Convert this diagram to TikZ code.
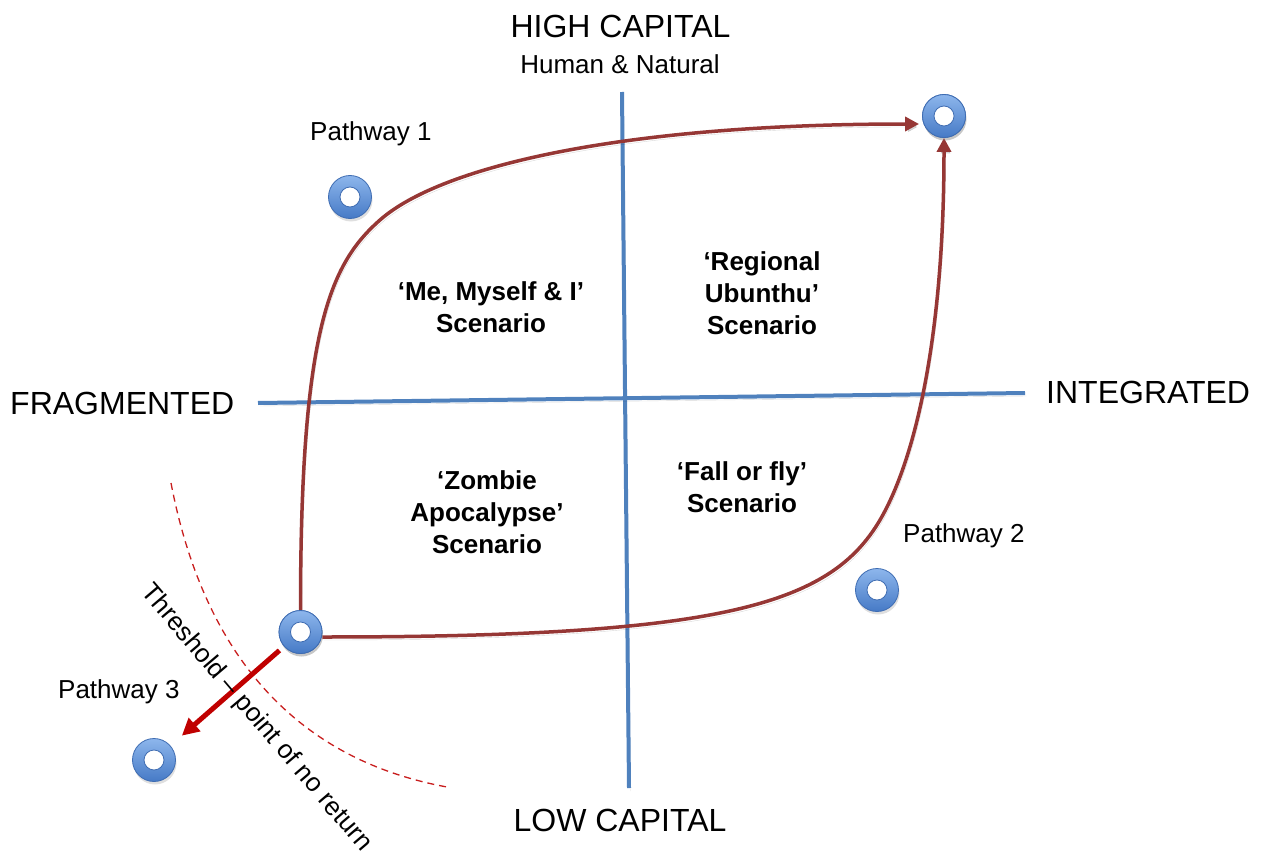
\documentclass[tikz,border=0pt]{standalone}
\usepackage{fontspec}
\setmainfont{Liberation Sans}
\usetikzlibrary{arrows.meta,calc,shadows}

\definecolor{axisblue}{RGB}{79,129,189}
\definecolor{pathred}{RGB}{150,55,53}
\definecolor{jumpred}{RGB}{192,0,0}
\definecolor{dashred}{RGB}{200,30,30}
\definecolor{donuttop}{RGB}{141,182,236}
\definecolor{donutbot}{RGB}{70,122,198}
\definecolor{donutedge}{RGB}{62,108,178}

\begin{document}
\begin{tikzpicture}[x=1pt,y=-1pt,
  softshadow/.style={preaction={draw=black, opacity=0.15,
      transform canvas={xshift=1.5pt,yshift=-3pt}}},
  axis/.style={axisblue, line width=4pt, softshadow},
  pathway/.style={pathred, line width=3.5pt, softshadow,
      -{Triangle[length=14pt,width=14pt]}},
  jump/.style={jumpred, line width=5pt, -{Triangle[length=17pt,width=17pt]}},
  threshold/.style={dashred, line width=1.3pt, dash pattern=on 7pt off 5pt},
  donut/.style={circle, minimum size=43pt, inner sep=0pt,
      draw=donutedge, line width=0.8pt, top color=donuttop, bottom color=donutbot,
      drop shadow={opacity=0.25, shadow xshift=1pt, shadow yshift=-3pt},
      path picture={\fill[white, draw=donutedge, line width=0.8pt]
        (path picture bounding box.center) circle (10pt);}},
  big/.style={font=\fontsize{32}{38}\selectfont, inner sep=0pt},
  mid/.style={font=\fontsize{26}{31}\selectfont, inner sep=0pt},
  scen/.style={font=\bfseries\fontsize{26}{32}\selectfont, align=center, inner sep=0pt}
]
\useasboundingbox (0,0) rectangle (1266,856);

% threshold line (point of no return)
\draw[threshold] (171,483) .. controls (205,660) and (300,760) .. (447,787);

% the two axes
\coordinate (vtop) at (622,92);
\coordinate (vbot) at (629,788);
\coordinate (hleft) at (258,403);
\coordinate (hright) at (1025,393);
\draw[axis] (vtop) -- (vbot);
\draw[axis] (hleft) -- (hright);

% pathway markers
\node[donut] (m0) at (300.5,632) {};
\node[donut] (m1) at (944,116) {};
\node[donut] (p1) at (350,197) {};
\node[donut] (p2) at (877,590) {};
\node[donut] (p3) at (154,760) {};

% bend points of the two pathways
\coordinate (c1) at (380,220);
\coordinate (c2) at (880,520);

% pathway 1: up the fragmented side, then across the top
\draw[pathway] (m0.north) .. controls +(0,-281) and +(-50,44) .. (c1)
  .. controls +(60,-53) and +(-300,0) .. ([shift={(-3,8)}]m1.west);
% pathway 2: across the bottom, then up the integrated side
\draw[pathway] ([yshift=-5pt]m0.east) .. controls +(400,0) and +(-50,85) .. (c2)
  .. controls +(35,-60) and +(0,200) .. (m1.south);
% pathway 3: over the threshold
\draw[jump] ($(m0)!28pt!(p3)$) -- ($(p3)!37pt!(m0)$);

% redraw markers on top of the lines
\node[donut] at (m0) {};
\node[donut] at (m1) {};

% axis labels
\node[big, anchor=base] (high) at (620.5,38) {HIGH CAPITAL};
\node[mid, anchor=base] (hn) at (620,74) {Human \& Natural};
\node[big, anchor=base] (low) at (620,831) {LOW CAPITAL};
\node[big, anchor=base west] (frag) at (10,414.5) {FRAGMENTED};
\node[big, anchor=base west] (integ) at (1046,403.5) {INTEGRATED};

% pathway labels
\node[mid, anchor=base west] (l1) at (310,140) {Pathway 1};
\node[mid, anchor=base west] (l2) at (903,542) {Pathway 2};
\node[mid, anchor=base west] (l3) at (58,698) {Pathway 3};

% scenarios
\node[scen] (s1) at (491,307.5) {‘Me, Myself \& I’\\Scenario};
\node[scen] (s2) at (762,293.5) {‘Regional\\Ubunthu’\\Scenario};
\node[scen] (s3) at (487,512.5) {‘Zombie\\Apocalypse’\\Scenario};
\node[scen] (s4) at (742,487.5) {‘Fall or fly’\\Scenario};

% threshold label
\node[mid, rotate=-49.6] (thr) at (256,718) {Threshold – point of no return};
\end{tikzpicture}
\end{document}
